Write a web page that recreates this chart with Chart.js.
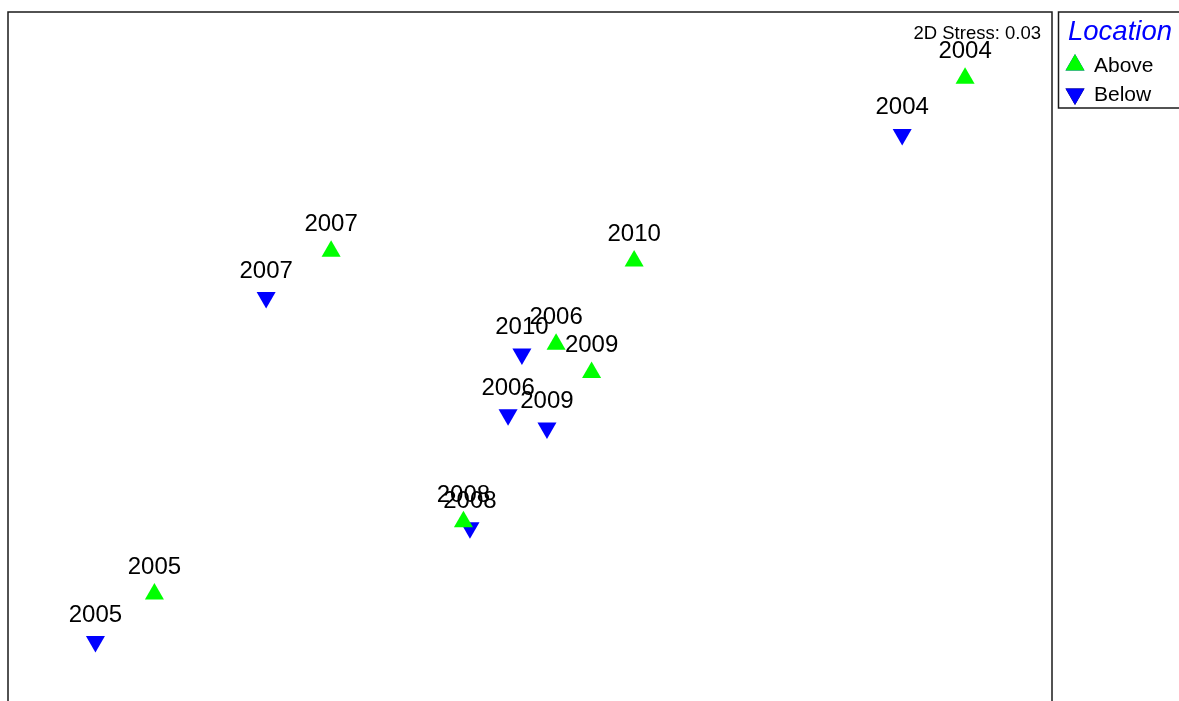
<!DOCTYPE html>
<html>
<head>
<meta charset="utf-8">
<title>nMDS ordination by year and location</title>
<script src="https://cdn.jsdelivr.net/npm/chart.js@4.4.1/dist/chart.umd.min.js"></script>
<style>
  html, body { margin: 0; padding: 0; background: #ffffff; overflow: hidden; }
  #wrap { width: 1179px; height: 760px; }
</style>
</head>
<body>
<div id="wrap"><canvas id="mds" width="1179" height="760"></canvas></div>
<script>
// Sample years (point labels)
const years = ['2004', '2005', '2006', '2007', '2008', '2009', '2010'];

// MDS coordinates, samples taken above the site
const aboveX = [1.667, -1.439, 0.100, -0.762, -0.255, 0.236, 0.399];
const aboveY = [1.246, -0.730, 0.227, 0.583, -0.453, 0.119, 0.546];

// MDS coordinates, samples taken below the site
const belowX = [1.426, -1.665, -0.084, -1.011, -0.230, 0.065, -0.031];
const belowY = [1.031, -0.912, -0.043, 0.406, -0.476, -0.094, 0.190];

const stressText = '2D Stress: 0.03';
const legendTitle = 'Location';

const toPoints = (xs, ys) => xs.map((x, i) => ({ x: x, y: ys[i], label: years[i] }));

const FONT = '"Liberation Sans", Arial, Helvetica, sans-serif';

// Frame, stress note, point labels and the legend box
const annotate = {
  id: 'annotate',
  afterDatasetsDraw(chart) {
    const ctx = chart.ctx;
    const a = chart.chartArea;
    ctx.save();

    // year labels above each point
    ctx.fillStyle = '#000000';
    ctx.font = '24px ' + FONT;
    ctx.textAlign = 'center';
    ctx.textBaseline = 'alphabetic';
    chart.data.datasets.forEach((ds, di) => {
      const meta = chart.getDatasetMeta(di);
      meta.data.forEach((pt, i) => {
        ctx.fillText(ds.data[i].label, pt.x, pt.y - 20);
      });
    });

    // plot frame
    ctx.strokeStyle = '#1a1a1a';
    ctx.lineWidth = 1.5;
    ctx.strokeRect(a.left, a.top, a.right - a.left, a.bottom - a.top);

    // stress value
    ctx.font = '18.5px ' + FONT;
    ctx.textAlign = 'right';
    ctx.fillStyle = '#000000';
    ctx.fillText(stressText, 1041, 38.5);

    // legend box
    const lx = 1058.5, ly = 12, lw = 140, lh = 96;
    ctx.strokeRect(lx, ly, lw, lh);
    ctx.font = 'italic 27.5px ' + FONT;
    ctx.textAlign = 'left';
    ctx.fillStyle = '#0000ff';
    ctx.fillText(legendTitle, 1068, 40);

    ctx.font = '21px ' + FONT;
    const rows = [
      { ds: chart.data.datasets[0], y: 65 },
      { ds: chart.data.datasets[1], y: 94 }
    ];
    rows.forEach(r => {
      Chart.helpers.drawPoint(ctx, {
        pointStyle: 'triangle',
        rotation: r.ds.pointRotation,
        radius: 11,
        borderWidth: 0
      }, 1075, r.y);
      ctx.fillStyle = r.ds.pointBackgroundColor;
      ctx.fill();
      ctx.fillStyle = '#000000';
      ctx.fillText(r.ds.label, 1094, r.y + 7);
    });

    ctx.restore();
  }
};

new Chart(document.getElementById('mds'), {
  type: 'scatter',
  data: {
    datasets: [
      {
        label: 'Above',
        data: toPoints(aboveX, aboveY),
        pointStyle: 'triangle',
        pointRotation: 0,
        pointRadius: 11,
        pointHoverRadius: 11,
        pointBorderWidth: 0,
        pointBackgroundColor: '#00ff00',
        backgroundColor: '#00ff00',
        borderColor: '#00ff00'
      },
      {
        label: 'Below',
        data: toPoints(belowX, belowY),
        pointStyle: 'triangle',
        pointRotation: 180,
        pointRadius: 11,
        pointHoverRadius: 11,
        pointBorderWidth: 0,
        pointBackgroundColor: '#0000ff',
        backgroundColor: '#0000ff',
        borderColor: '#0000ff'
      }
    ]
  },
  options: {
    responsive: false,
    animation: false,
    devicePixelRatio: 1,
    layout: { autoPadding: false, padding: { left: 8, right: 127, top: 12, bottom: 17.2 } },
    plugins: {
      legend: { display: false },
      tooltip: { enabled: false },
      title: { display: false }
    },
    scales: {
      x: { type: 'linear', min: -2, max: 2, display: false },
      y: { type: 'linear', min: -1.3, max: 1.5, display: false }
    }
  },
  plugins: [annotate]
});
</script>
</body>
</html>
